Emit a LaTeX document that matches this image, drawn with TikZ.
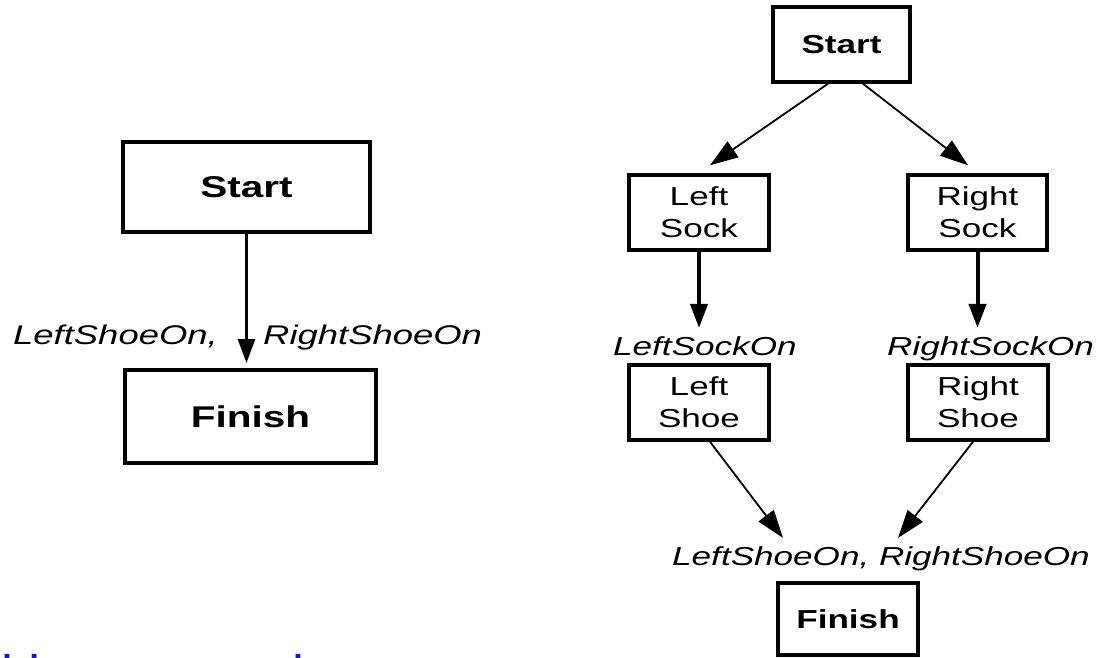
\documentclass[tikz,border=0pt]{standalone}
\usepackage{fontspec}
\setmainfont{Liberation Sans}[FakeStretch=1.35]
\newfontfamily\notefont{Liberation Sans}
\usepackage{tikz}
\usetikzlibrary{arrows.meta,positioning}
\definecolor{slideblue}{RGB}{25,25,195}

\begin{document}
\begin{tikzpicture}[
    x=1pt, y=1pt,
    bigbox/.style={rectangle,draw,line width=4pt,inner sep=0pt,
      font=\fontsize{30}{34}\selectfont\bfseries},
    smallbox/.style={rectangle,draw,line width=3.5pt,inner sep=0pt,
      minimum width=140pt,minimum height=75pt,align=center,
      font=\fontsize{26}{32}\selectfont},
    cond/.style={inner sep=0pt,font=\fontsize{26}{30}\selectfont\itshape},
    thinarrow/.style={-{Triangle[length=28pt,width=19pt]},line width=1.8pt},
    thickarrow/.style={-{Triangle[length=24pt,width=17pt]},line width=4pt}
  ]
    \useasboundingbox (0,0) rectangle (1099,657);
    \clip (0,0) rectangle (1099,657);

    % empty plan
    \node[bigbox,minimum width=247pt,minimum height=90pt] (start1) at (246.5,470) {Start};
    \node[bigbox,minimum width=251pt,minimum height=93pt] (finish1) at (250.5,240.5) {Finish};
    \node[cond,anchor=base east,font=\fontsize{27}{30}\selectfont\itshape] (lso1) at (218,313) {LeftShoeOn,};
    \node[cond,anchor=base west,font=\fontsize{27}{30}\selectfont\itshape] (rso1) at (263,313) {RightShoeOn};
    \draw[thickarrow,line width=3pt,shorten >=5pt] (start1.south) -- (start1.south |- finish1.north);

    % partial-order plan
    \node[smallbox,minimum width=137pt,font=\fontsize{26}{32}\selectfont\bfseries] (start2) at (841.5,612.5) {Start};
    \node[smallbox] (lsock) at (699,444.5) {Left\\Sock};
    \node[smallbox,minimum width=139pt] (rsock) at (977.5,444.5) {Right\\Sock};
    \node[cond,anchor=base west] (lsockon) at (613,302) {LeftSockOn};
    \node[cond,anchor=base west] (rsockon) at (887,302) {RightSockOn};
    \node[smallbox] (lshoe) at (699,254.5) {Left\\Shoe};
    \node[smallbox] (rshoe) at (978,254.5) {Right\\Shoe};
    \node[cond,anchor=base west] (both) at (672,92) {LeftShoeOn, RightShoeOn};
    \node[smallbox,minimum height=72pt,font=\fontsize{26}{32}\selectfont\bfseries] (finish2) at (848,38) {Finish};

    \draw[thinarrow] ([xshift=-13.5pt]start2.south) -- ([xshift=11pt,yshift=8pt]lsock.north);
    \draw[thinarrow] ([xshift=21.5pt]start2.south) -- ([xshift=-9.5pt,yshift=8pt]rsock.north);
    \draw[thickarrow,shorten >=8pt] (lsock.south) -- (lsock.south |- lsockon.north);
    \draw[thickarrow,shorten >=8pt] (rsock.south) -- (rsock.south |- rsockon.north);
    \draw[thinarrow] ([xshift=11pt]lshoe.south) -- ([xshift=-98pt,yshift=8pt]both.north);
    \draw[thinarrow] ([xshift=-5pt]rshoe.south) -- ([xshift=17pt,yshift=8pt]both.north);

    \node[anchor=base west,inner sep=0pt,text=slideblue,font=\notefont\fontsize{54}{60}\selectfont] (note) at (-38,-36) {with construction};
  \end{tikzpicture}
\end{document}
